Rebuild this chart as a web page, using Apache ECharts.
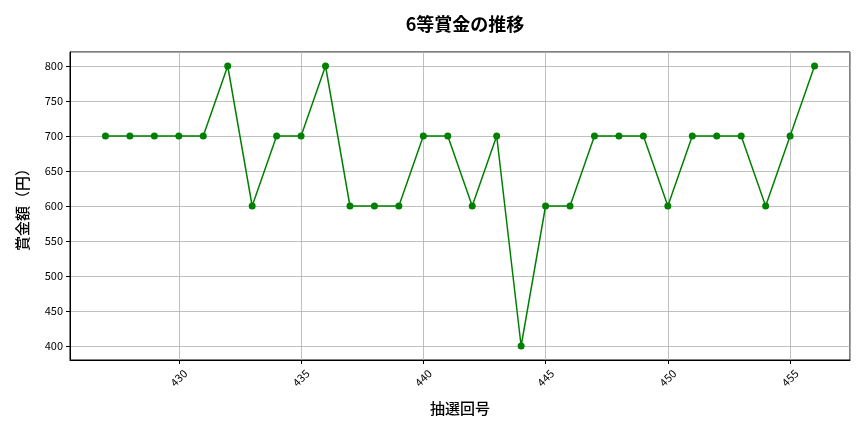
<!DOCTYPE html>
<html>
<head>
<meta charset="utf-8">
<script src="https://cdn.jsdelivr.net/npm/echarts@6/dist/echarts.min.js"></script>
<style>
  html, body { margin: 0; padding: 0; background: #fff; }
  #main { width: 864px; height: 432px; }
</style>
</head>
<body>
<div id="main"></div>
<script>
// 抽選回号
var draws = [427, 428, 429, 430, 431, 432, 433, 434, 435, 436,
             437, 438, 439, 440, 441, 442, 443, 444, 445, 446,
             447, 448, 449, 450, 451, 452, 453, 454, 455, 456];
// 6等賞金（円）
var prizes = [700, 700, 700, 700, 700, 800, 600, 700, 700, 800,
              600, 600, 600, 700, 700, 600, 700, 400, 600, 600,
              700, 700, 700, 600, 700, 700, 700, 600, 700, 800];

var font = 'Noto Sans CJK JP, sans-serif';
var points = draws.map(function (d, i) { return [d, prizes[i]]; });

var myChart = echarts.init(document.getElementById('main'));
var option = {
    animation: false,
    backgroundColor: '#fff',
    title: {
        text: '6等賞金の推移',
        left: 460,
        textAlign: 'center',
        top: 10,
        textStyle: {fontFamily: font, fontSize: 18, fontWeight: 'bold', color: '#000'}
    },
    grid: {
        left: 70, right: 14, top: 52, bottom: 72,
        show: true, borderColor: '#000', borderWidth: 1
    },
    xAxis: {
        type: 'value',
        min: 425.55,
        max: 457.45,
        splitNumber: 6,
        minInterval: 5,
        maxInterval: 5,
        name: '抽選回号',
        nameLocation: 'middle',
        nameGap: 41,
        nameTextStyle: {fontFamily: font, fontSize: 15, fontWeight: 500, color: '#000'},
        axisLine: {show: true, lineStyle: {color: '#000', width: 1}},
        axisTick: {show: true, length: 4, lineStyle: {color: '#000'}},
        axisLabel: {
            rotate: 45, fontFamily: font, fontSize: 11, color: '#000',
            showMinLabel: false, showMaxLabel: false,
            align: 'center', verticalAlign: 'middle', margin: 18
        },
        splitLine: {show: true, lineStyle: {color: '#b0b0b0', width: 0.8}}
    },
    yAxis: {
        type: 'value',
        min: 380,
        max: 820,
        splitNumber: 9,
        minInterval: 50,
        maxInterval: 50,
        name: '賞金額（円）',
        nameLocation: 'middle',
        nameGap: 40,
        nameTextStyle: {fontFamily: font, fontSize: 15, fontWeight: 500, color: '#000'},
        axisLine: {show: true, lineStyle: {color: '#000', width: 1}},
        axisTick: {show: true, length: 4, lineStyle: {color: '#000'}},
        axisLabel: {
            fontFamily: font, fontSize: 11, color: '#000', margin: 7,
            showMinLabel: false, showMaxLabel: false
        },
        splitLine: {show: true, lineStyle: {color: '#b0b0b0', width: 0.8}}
    },
    series: [
        {
            type: 'line',
            data: points,
            symbol: 'circle',
            symbolSize: 7,
            lineStyle: {color: 'green', width: 1.5},
            itemStyle: {color: 'green'}
        }
    ]
};
myChart.setOption(option);
</script>
</body>
</html>
